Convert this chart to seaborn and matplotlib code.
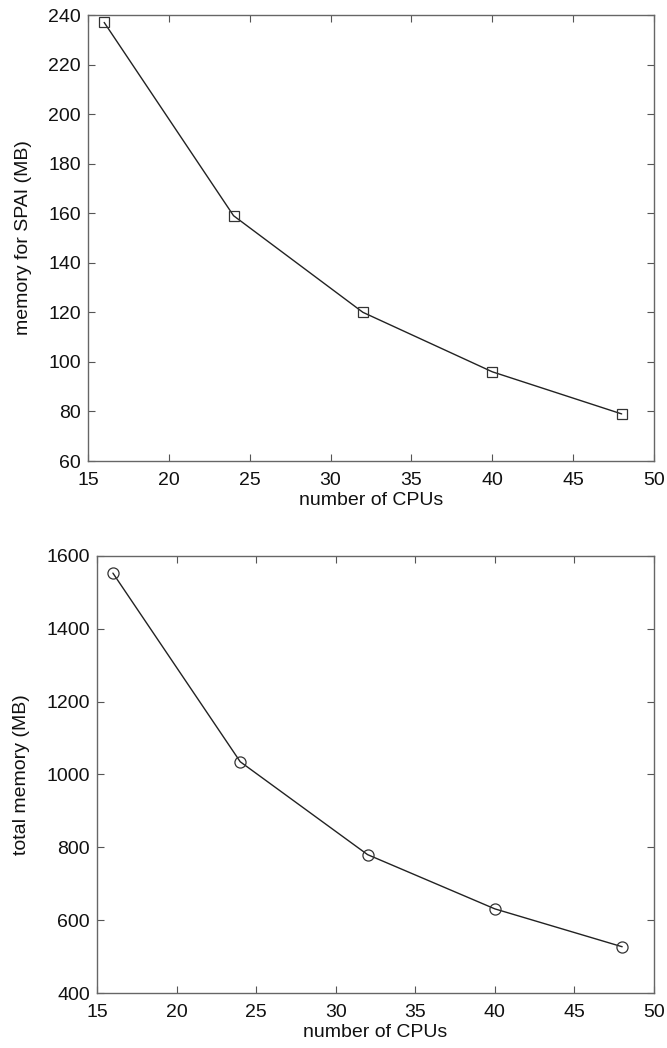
import matplotlib
matplotlib.use("Agg")
import matplotlib.pyplot as plt
import seaborn as sns
import pandas as pd

cpus = [16, 24, 32, 40, 48]
spai_mem = [237, 159, 120, 96, 79]
total_mem = [1553, 1035, 780, 631, 527]

sns.set_style("ticks")
plt.rcParams["font.family"] = ["Liberation Sans", "DejaVu Sans"]
plt.rcParams["font.size"] = 14
plt.rcParams["text.color"] = "#111111"
plt.rcParams["axes.labelcolor"] = "#111111"

df = pd.DataFrame({"cpus": cpus, "spai": spai_mem, "total": total_mem})

fig = plt.figure(figsize=(6.67, 10.48), dpi=100)
W, H = 667, 1048
ax1 = fig.add_axes([88 / W, 1 - 461 / H, (654 - 88) / W, (461 - 15) / H])
ax2 = fig.add_axes([97 / W, 1 - 993 / H, (654 - 97) / W, (993 - 556) / H])

sns.lineplot(data=df, x="cpus", y="spai", ax=ax1, color="#222222", lw=1,
             marker="s", markersize=7, markerfacecolor="none",
             markeredgecolor="#333333", markeredgewidth=0.9)
sns.lineplot(data=df, x="cpus", y="total", ax=ax2, color="#222222", lw=1,
             marker="o", markersize=8, markerfacecolor="none",
             markeredgecolor="#333333", markeredgewidth=0.9)

ax1.set_xlim(15, 50)
ax1.set_ylim(60, 240)
ax1.set_yticks(range(60, 241, 20))
ax1.set_ylabel("memory for SPAI (MB)", fontsize=14, labelpad=12)

ax2.set_xlim(15, 50)
ax2.set_ylim(400, 1600)
ax2.set_yticks(range(400, 1601, 200))
ax2.set_ylabel("total memory (MB)", fontsize=14, labelpad=12)

for ax in (ax1, ax2):
    ax.set_xticks(range(15, 51, 5))
    ax.set_xlabel("number of CPUs", fontsize=14, labelpad=2)
    ax.tick_params(direction="in", top=True, right=True, length=5,
                   width=0.8, color="#555555", labelsize=14, labelcolor="#111111")
    ax.tick_params(axis="x", pad=8)
    ax.tick_params(axis="y", pad=5)
    for s in ax.spines.values():
        s.set_visible(True)
        s.set_color("#666666")
        s.set_linewidth(1)

fig.savefig("out.png", dpi=100)
